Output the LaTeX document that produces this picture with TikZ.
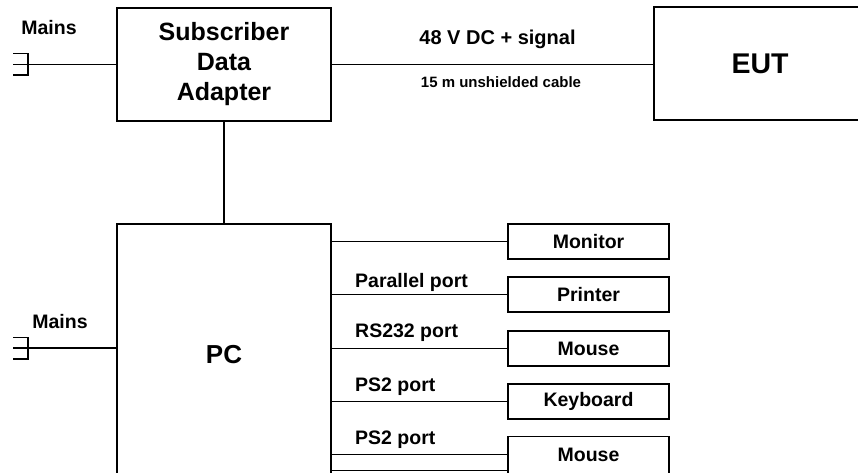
\documentclass[tikz,border=0pt]{standalone}
\usepackage{fontspec}
\setmainfont{Liberation Sans}
\begin{document}
\begin{tikzpicture}[x=1pt,y=-1pt,
  box/.style={draw,line width=1.5pt,inner sep=0pt,align=center},
  periph/.style={box,minimum width=161pt,minimum height=35pt,font=\bfseries\fontsize{19.5}{22}\selectfont},
  conn/.style={line width=1.3pt},
  lbl/.style={inner sep=0pt,font=\bfseries\fontsize{19.5}{22}\selectfont},
  portlbl/.style={lbl,anchor=west}]
\useasboundingbox (0,0) rectangle (858,472);
% main boxes
\node[box,minimum width=214pt,minimum height=113pt,font=\bfseries\fontsize{25}{30}\selectfont] (sda) at (224,64.5) {Subscriber\\Data\\Adapter};
\node[box,minimum width=212pt,minimum height=113pt,font=\bfseries\fontsize{28.5}{32}\selectfont] (eut) at (760,63.5) {EUT};
\node[box,minimum width=214pt,minimum height=262pt,font=\bfseries\fontsize{26}{30}\selectfont] (pc) at (224,355) {PC};
% peripherals
\node[periph] (mon) at (588.5,241.5) {Monitor};
\node[periph] (prn) at (588.5,294.5) {Printer};
\node[periph] (ms1) at (588.5,348.5) {Mouse};
\node[periph] (kbd) at (588.5,401.5) {Keyboard};
\node[periph,minimum height=37pt] (ms2) at (588.5,455) {Mouse};
% connectors
\draw[conn] (sda.east) -- (eut.west |- sda.east);
\draw[conn] (sda.south) -- (pc.north);
\draw[conn] (pc.east |- mon.west) -- (mon.west);
\draw[conn] (pc.east |- prn.west) -- (prn.west);
\draw[conn] (pc.east |- ms1.west) -- (ms1.west);
\draw[conn] (pc.east |- kbd.west) -- (kbd.west);
\draw[conn] (pc.east |- 0,454.5) -- (ms2.west |- 0,454.5);
\coordinate (lowc) at (0,470.5);
\draw[conn] (pc.east |- lowc) -- (ms2.west |- lowc);
% mains plugs
\coordinate (plugA) at (28,64.5);
\coordinate (plugB) at (28,348);
\draw[conn] (13,53.5) -- (28,53.5) -- (28,75) -- (13,75);
\draw[conn] (13,64.5) -- (plugA) -- (sda.west);
\draw[conn] (13,337.5) -- (28,337.5) -- (28,359) -- (13,359);
\draw[conn] (13,348) -- (plugB) -- (pc.west |- plugB);
% labels
\node[lbl] (mainsA) at (49,28) {Mains};
\node[lbl] (mainsB) at (60,322) {Mains};
\node[lbl,font=\bfseries\fontsize{20}{23}\selectfont] (sig) at (497.5,39) {48 V DC + signal};
\node[lbl,font=\bfseries\fontsize{15}{18}\selectfont] (cab) at (501,82) {15 m unshielded cable};
\node[portlbl] (lpar) at (355,282) {Parallel port};
\node[portlbl] (lrs) at (355,333) {RS232 port};
\node[portlbl] (lps1) at (355,387) {PS2 port};
\node[portlbl] (lps2) at (355,440) {PS2 port};
\end{tikzpicture}
\end{document}
